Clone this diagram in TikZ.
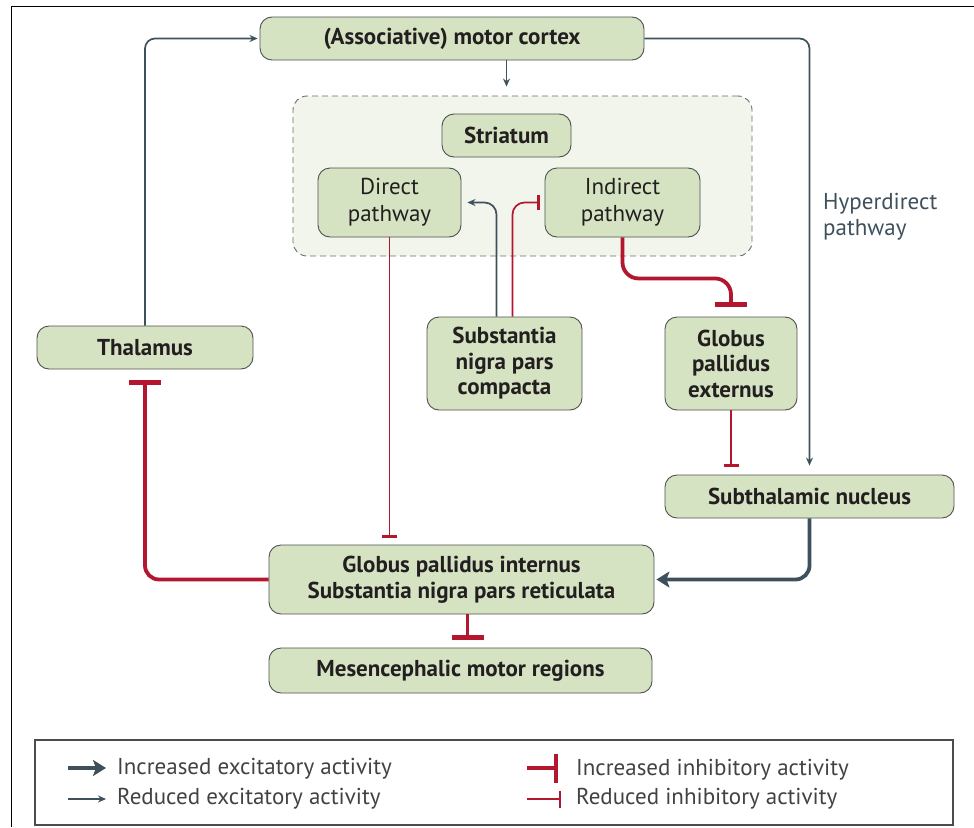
\documentclass[tikz,border=0pt]{standalone}
\usepackage{fontspec}
\setmainfont{PT Sans}
\usetikzlibrary{arrows.meta,calc}
\definecolor{boxfill}{HTML}{D5E3C3}
\definecolor{boxline}{HTML}{505050}
\definecolor{strfill}{HTML}{F1F5EC}
\definecolor{slate}{HTML}{3E505C}
\definecolor{crim}{HTML}{B3172F}
\definecolor{txt}{HTML}{231F20}
\begin{document}
\begin{tikzpicture}[x=1pt,y=-1pt,
 box/.style={draw=boxline,line width=0.9pt,fill=boxfill,rounded corners=12pt,inner sep=0pt,align=center,text=txt,font=\fontsize{23}{25.5}\selectfont\bfseries},
 pbox/.style={box,font=\fontsize{23}{27}\selectfont},
 exc/.style={draw=slate,line width=1.7pt,-{Stealth[length=8pt,width=7pt]}},
 excbig/.style={draw=slate,line width=3.8pt,-{Stealth[length=13pt,width=16pt,inset=3pt]}},
 inh/.style={draw=crim,line width=1.7pt,-{Bar[width=15pt,line width=2.2pt]}},
 inhbig/.style={draw=crim,line width=3.8pt,-{Bar[width=32pt,line width=5pt]}},
 leginhbig/.style={draw=crim,line width=4pt,-{Bar[width=29pt,line width=4pt]}},
 leginh/.style={draw=crim,line width=1.6pt,-{Bar[width=17pt,line width=1.8pt]}},
 legtext/.style={anchor=west,inner sep=0pt,text=txt!85,font=\fontsize{23}{26}\selectfont},
 ]
\useasboundingbox (0,0) rectangle (974,827);
\draw[line width=1pt] (11,827) -- (11,6) -- (974,6);

% striatum region
\node[draw=gray!85!black, dash pattern=on 6pt off 4pt, fill=strfill, rounded corners=14pt,
      minimum width=459pt, minimum height=160pt, line width=0.9pt, inner sep=0pt] (strbox) at (522.5,176) {};

% nodes
\node[box, minimum width=384pt, minimum height=43pt] (ctx) at (452,38.5) {(Associative) motor cortex};
\node[box, minimum width=129pt, minimum height=43pt] (str) at (506.5,135.5) {Striatum};
\node[pbox, minimum width=143pt, minimum height=69pt] (dir) at (389.5,202.5) {Direct\\pathway};
\node[pbox, minimum width=155pt, minimum height=69pt] (ind) at (622.5,202.5) {Indirect\\pathway};
\node[box, minimum width=216pt, minimum height=43pt] (thal) at (145,347.5) {Thalamus};
\node[box, minimum width=155pt, minimum height=93pt] (snc) at (504.5,363.5) {Substantia\\nigra pars\\compacta};
\node[box, minimum width=132pt, minimum height=93pt] (gpe) at (731,363.5) {Globus\\pallidus\\externus};
\node[box, minimum width=289pt, minimum height=43pt] (stn) at (809.5,496.5) {Subthalamic nucleus};
\node[box, minimum width=385pt, minimum height=69pt] (gpi) at (461.5,579.5) {Globus pallidus internus\\Substantia nigra pars reticulata};
\node[box, minimum width=383pt, minimum height=45pt] (mes) at (460.5,670.5) {Mesencephalic motor regions};
\node[anchor=west, align=left, inner sep=0pt, text=slate, font=\fontsize{23}{26}\selectfont] (hyp) at (823,217) {Hyperdirect\\pathway};

% connectors
\draw[exc, rounded corners=10pt, shorten >=2pt] (thal.north) |- (ctx.west);
\draw[exc, rounded corners=10pt, shorten >=9pt] (ctx.east) -| (stn.north);
\draw[exc, shorten >=9pt] (ctx.south -| str.north) -- (strbox.north -| str.north);
\draw[inh, shorten >=7pt] (dir.south) -- (dir.south |- gpi.north);
\coordinate (sncl) at ($(snc.north)+(-8,0)$);
\coordinate (sncr) at ($(snc.north)+(8,0)$);
\draw[exc, rounded corners=12pt, shorten >=6pt] (sncl) |- (dir.east);
\draw[inh, rounded corners=12pt, shorten >=5pt] (sncr) |- (ind.west);
\draw[inhbig, rounded corners=16pt, shorten >=10pt] (ind.south) -- ++(0,41) -| (gpe.north);
\draw[inh, shorten >=8pt] (gpe.south) -- (gpe.south |- stn.north);
\draw[excbig, rounded corners=14pt, shorten >=2pt] (stn.south) |- (gpi.east);
\draw[inhbig, rounded corners=14pt, shorten >=11pt] (gpi.west) -| (thal.south);
\coordinate (gpib) at ($(gpi.south)+(6,0)$);
\draw[inhbig, shorten >=8pt] (gpib) -- (gpib |- mes.north);

% legend
\node[draw=black!70, line width=1.3pt, minimum width=918pt, minimum height=85pt, inner sep=0pt] (leg) at (494,782.5) {};
\coordinate (l1a) at (68,768); \coordinate (l1b) at (106,768);
\coordinate (l2a) at (68,799); \coordinate (l2b) at (106,799);
\coordinate (l3a) at (527,768); \coordinate (l3b) at (558,768);
\coordinate (l4a) at (527,799); \coordinate (l4b) at (561,799);
\draw[excbig] (l1a) -- (l1b);
\draw[exc] (l2a) -- (l2b);
\draw[leginhbig] (l3a) -- (l3b);
\draw[leginh] (l4a) -- (l4b);
\node[legtext] (t1) at (117,769) {Increased excitatory activity};
\node[legtext] (t2) at (117,799) {Reduced excitatory activity};
\node[legtext] (t3) at (576,770) {Increased inhibitory activity};
\node[legtext] (t4) at (576,799) {Reduced inhibitory activity};
\end{tikzpicture}
\end{document}
